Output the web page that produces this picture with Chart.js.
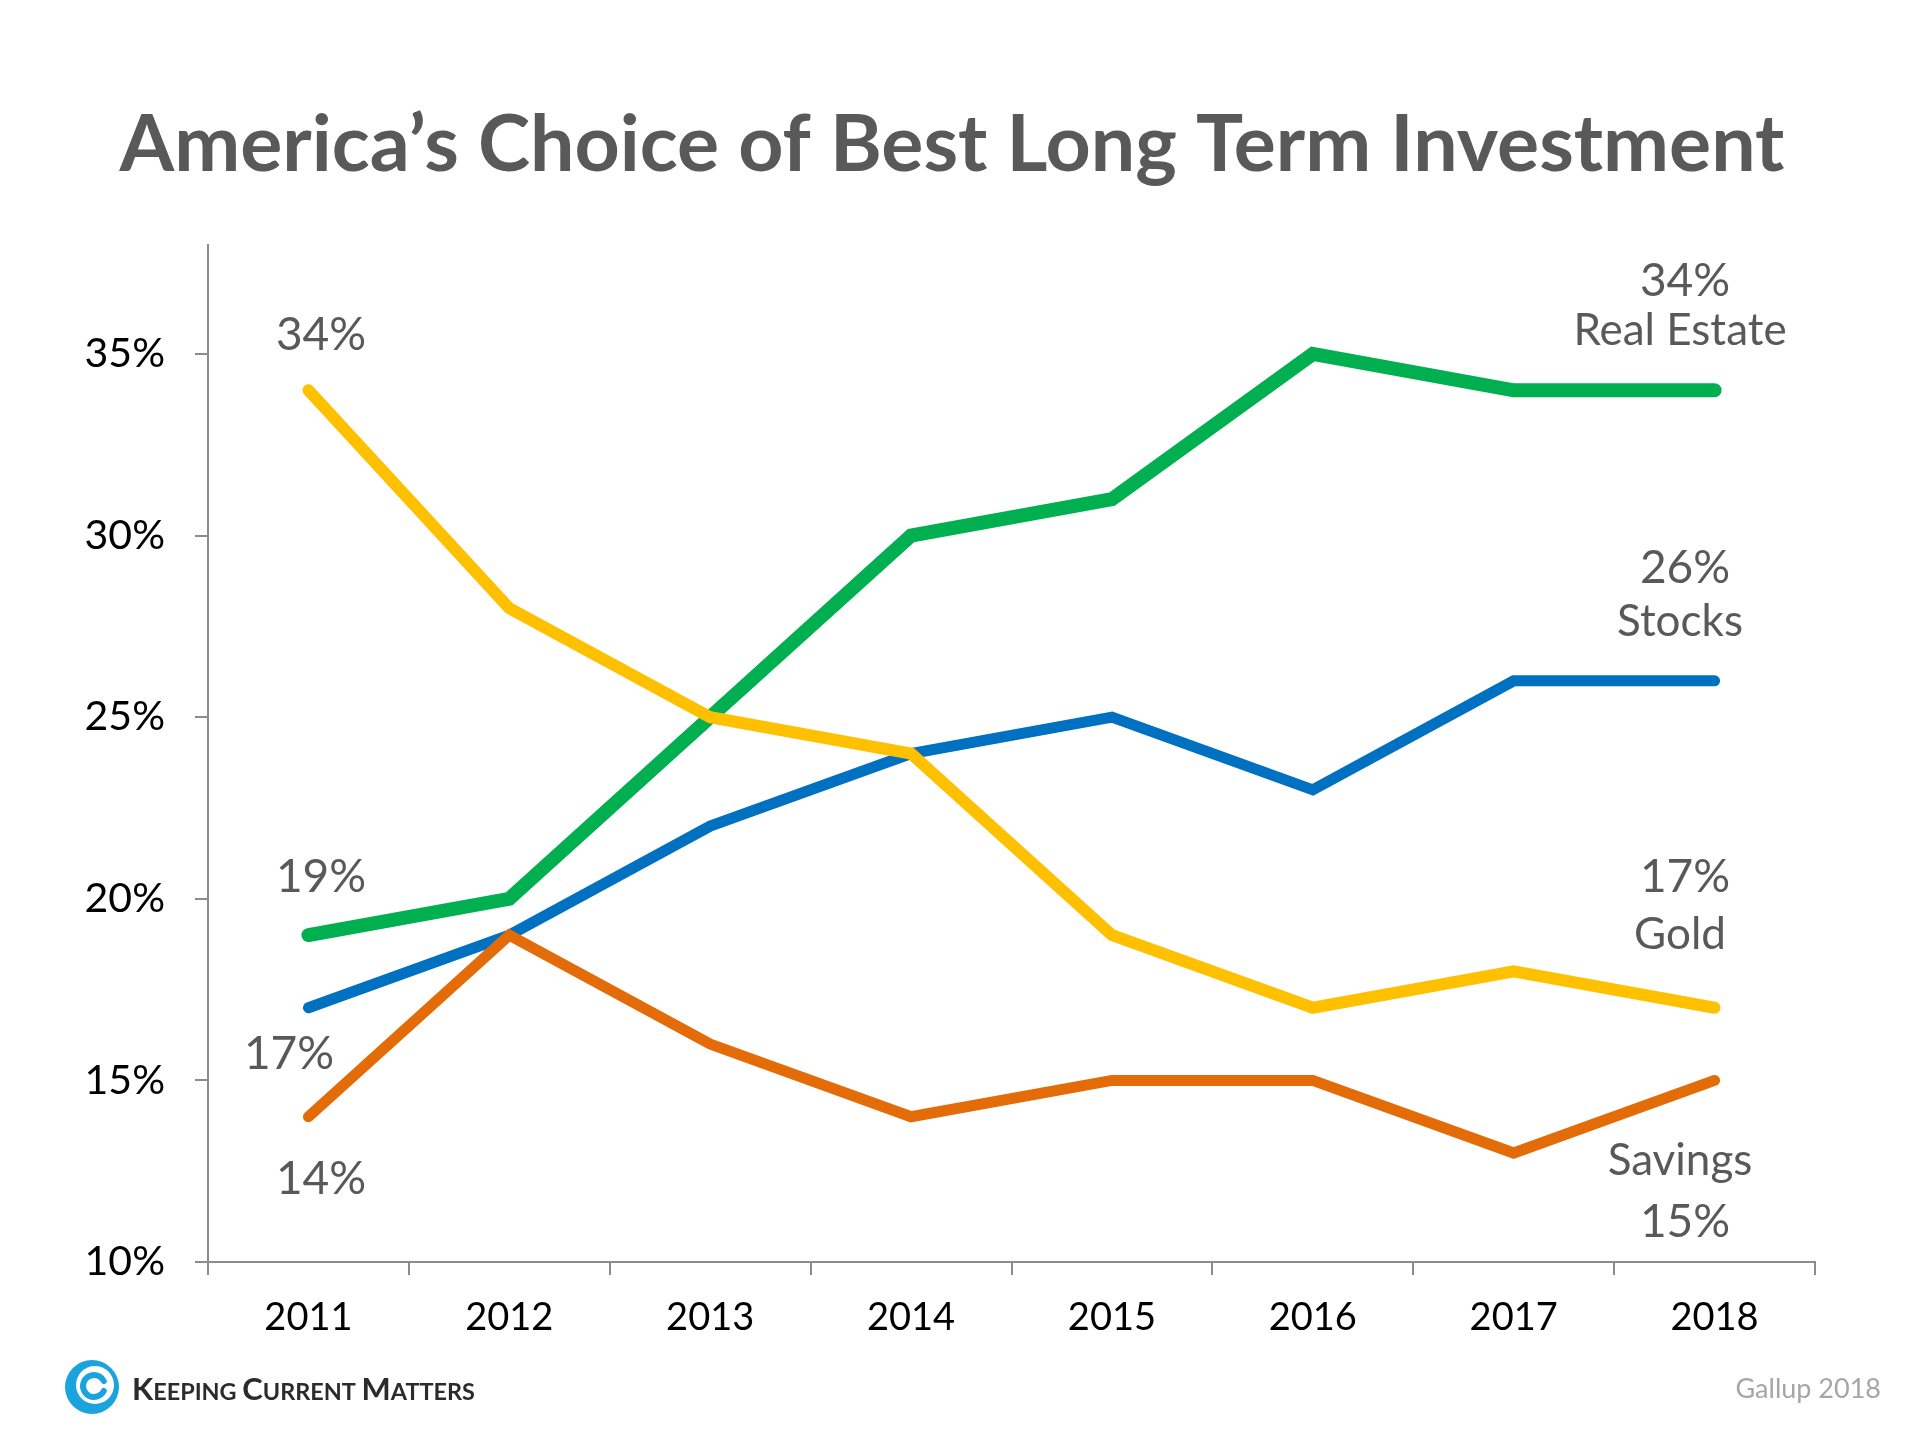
<!DOCTYPE html>
<html><head><meta charset="utf-8">
<script src="https://cdn.jsdelivr.net/npm/chart.js@4/dist/chart.umd.min.js"></script>
<style>html,body{margin:0;padding:0;background:#fff}#wrap{width:1920px;height:1440px;position:relative}</style>
</head><body><div id="wrap"><canvas id="c" width="1920" height="1440"></canvas></div>
<script>
// ---- data ----
const years = ['2011','2012','2013','2014','2015','2016','2017','2018'];
const realEstate = [19,20,25,30,31,35,34,34];
const stocks     = [17,19,22,24,25,23,26,26];
const gold       = [34,28,25,24,19,17,18,17];
const savings    = [14,19,16,14,15,15,13,15];
const yTickValues = [10,15,20,25,30,35];
const seriesNames = ['Real Estate','Stocks','Gold','Savings'];
const titleText = 'America’s Choice of Best Long Term Investment';
const sourceText = 'Gallup 2018';
const brandWords = ['Keeping','Current','Matters'];

// ---- styles / layout ----
const FONT = 'Lato, "Open Sans", sans-serif';
const GREY = '#595959';
const AXIS = '#8c8c8c';
const last = years.length - 1;
const annotations = [
  {t: gold[0] + '%',            x: 321,  y: 335,  s: 46},
  {t: realEstate[0] + '%',      x: 321,  y: 877,  s: 46},
  {t: stocks[0] + '%',          x: 289,  y: 1054, s: 46},
  {t: savings[0] + '%',         x: 321,  y: 1179, s: 46},
  {t: realEstate[last] + '%',   x: 1685, y: 281,  s: 46},
  {t: seriesNames[0],           x: 1680, y: 331,  s: 44},
  {t: stocks[last] + '%',       x: 1685, y: 568,  s: 46},
  {t: seriesNames[1],           x: 1680, y: 622,  s: 44},
  {t: gold[last] + '%',         x: 1685, y: 877,  s: 46},
  {t: seriesNames[2],           x: 1680, y: 935,  s: 44},
  {t: seriesNames[3],           x: 1680, y: 1161, s: 44},
  {t: savings[last] + '%',      x: 1685, y: 1222, s: 46}
];

const decor = {
  id: 'decor',
  afterDraw(chart) {
    const ctx = chart.ctx;
    ctx.save();
    // title, fit to width
    const target = 1665;
    let fs = 80;
    ctx.font = `bold ${fs}px ${FONT}`;
    fs = fs * target / ctx.measureText(titleText).width;
    ctx.font = `bold ${fs}px ${FONT}`;
    ctx.fillStyle = GREY;
    ctx.textAlign = 'center';
    ctx.textBaseline = 'alphabetic';
    ctx.fillText(titleText, 952, 171);

    // annotations
    ctx.textBaseline = 'middle';
    for (const a of annotations) {
      ctx.font = `${a.s}px ${FONT}`;
      ctx.fillStyle = GREY;
      ctx.fillText(a.t, a.x, a.y);
    }

    // source
    ctx.font = `27px ${FONT}`;
    ctx.fillStyle = '#a6a6a6';
    ctx.textAlign = 'right';
    ctx.fillText(sourceText, 1881, 1389);

    // logo swirl
    const cx = 92, cy = 1387;
    ctx.fillStyle = '#1ba3de';
    ctx.beginPath(); ctx.arc(cx, cy, 27, 0, Math.PI * 2); ctx.fill();
    ctx.fillStyle = '#fff';
    ctx.beginPath(); ctx.arc(cx + 3, cy - 2, 19, 0, Math.PI * 2); ctx.fill();
    ctx.strokeStyle = '#1ba3de';
    ctx.lineWidth = 6;
    ctx.lineCap = 'round';
    ctx.beginPath(); ctx.arc(cx + 2, cy - 1, 11, 0.15 * Math.PI, 1.85 * Math.PI); ctx.stroke();

    // brand small caps
    ctx.fillStyle = '#2b2b2b';
    ctx.textAlign = 'left';
    ctx.textBaseline = 'alphabetic';
    const big = 33, small = 25;
    let x = 132;
    const base = 1400;
    const pieces = [];
    brandWords.forEach((w, i) => {
      pieces.push({t: w[0].toUpperCase(), s: big});
      pieces.push({t: w.slice(1).toUpperCase() + (i < brandWords.length - 1 ? ' ' : ''), s: small});
    });
    let total = 0;
    for (const p of pieces) { ctx.font = `bold ${p.s}px ${FONT}`; total += ctx.measureText(p.t).width; }
    const k = 343 / total;
    for (const p of pieces) {
      ctx.font = `bold ${p.s * k}px ${FONT}`;
      ctx.fillText(p.t, x, base);
      x += ctx.measureText(p.t).width;
    }
    ctx.restore();
  }
};

const mk = (label, data, color, width, order) => ({
  label, data, borderColor: color, backgroundColor: color, borderWidth: width,
  pointRadius: 0, pointHoverRadius: 0, tension: 0, order,
  borderCapStyle: 'round', borderJoinStyle: 'miter', fill: false
});

new Chart(document.getElementById('c'), {
  type: 'line',
  data: {
    labels: years,
    datasets: [
      mk(seriesNames[2], gold, '#FFC000', 12, 1),
      mk(seriesNames[3], savings, '#E36C09', 11, 2),
      mk(seriesNames[1], stocks, '#0070C0', 11, 3),
      mk(seriesNames[0], realEstate, '#00B050', 14, 4)
    ]
  },
  options: {
    responsive: false,
    devicePixelRatio: 1,
    animation: false,
    layout: {padding: {top: 245, right: 105, bottom: 78, left: 0}},
    plugins: {legend: {display: false}, tooltip: {enabled: false}, title: {display: false}},
    scales: {
      x: {
        type: 'category',
        offset: true,
        grid: {offset: true, drawOnChartArea: false, drawTicks: true, tickLength: 13, color: AXIS, lineWidth: 2},
        border: {color: AXIS, width: 2},
        ticks: {color: '#000', font: {family: FONT, size: 38}, padding: 20, maxRotation: 0},
        afterFit(s) { s.height = 100; }
      },
      y: {
        min: 10, max: 38,
        afterBuildTicks(s) { s.ticks = yTickValues.map(v => ({value: v})); },
        grid: {drawOnChartArea: false, drawTicks: true, tickLength: 13, color: AXIS, lineWidth: 2},
        border: {color: AXIS, width: 2},
        ticks: {color: '#000', font: {family: FONT, size: 41}, padding: 30, callback: v => v + '%'},
        afterFit(s) { s.width = 208; }
      }
    }
  },
  plugins: [decor]
});
</script>
</body></html>
